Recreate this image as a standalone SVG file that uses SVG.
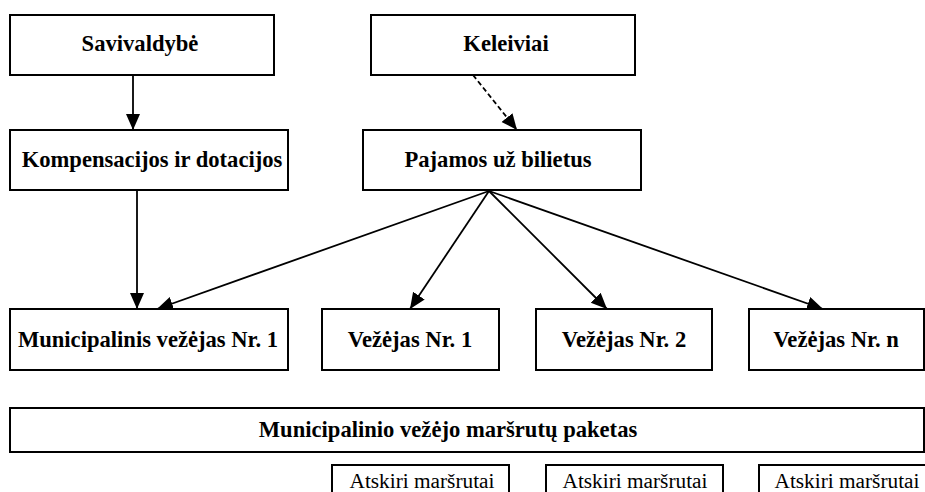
<svg xmlns="http://www.w3.org/2000/svg" width="925" height="492" viewBox="0 0 925 492">
<style>
.box{fill:#fff;stroke:#000;stroke-width:2}
.b{font-family:"Liberation Serif","Times New Roman",serif;font-weight:bold;font-size:22.6px;text-anchor:middle;fill:#000}
.n{font-family:"Liberation Serif","Times New Roman",serif;font-size:21.3px;text-anchor:middle;fill:#000}
.c{stroke:#000;stroke-width:1.8;fill:none}
.d{stroke-dasharray:5,3}
</style>
<defs>
<marker id="ah" markerUnits="userSpaceOnUse" markerWidth="18" markerHeight="15" refX="16" refY="7" orient="auto">
<path d="M0,0 L16,7 L0,14 Z" fill="#000"/>
</marker>
</defs>
<rect width="925" height="492" fill="#fff"/>
<g id="connectors">
<line class="c" x1="133" y1="75" x2="133" y2="130" marker-end="url(#ah)"/>
<line class="c d" x1="473" y1="75" x2="517" y2="130" marker-end="url(#ah)"/>
<line class="c" x1="137" y1="190" x2="137" y2="309" marker-end="url(#ah)"/>
<line class="c" x1="489" y1="191" x2="157" y2="309" marker-end="url(#ah)"/>
<line class="c" x1="489" y1="191" x2="410" y2="309" marker-end="url(#ah)"/>
<line class="c" x1="489" y1="191" x2="607" y2="309" marker-end="url(#ah)"/>
<line class="c" x1="489" y1="191" x2="823" y2="309" marker-end="url(#ah)"/>
</g>
<g id="savivaldybe">
<rect class="box" x="10" y="15" width="264" height="60"/>
<text class="b" x="140" y="51">Savivaldybė</text>
</g>
<g id="keleiviai">
<rect class="box" x="371" y="15" width="264" height="60"/>
<text class="b" x="506" y="51">Keleiviai</text>
</g>
<g id="kompensacijos">
<rect class="box" x="10" y="130" width="278" height="60"/>
<text class="b" x="152" y="167">Kompensacijos ir dotacijos</text>
</g>
<g id="pajamos">
<rect class="box" x="363" y="130" width="278" height="60"/>
<text class="b" x="498" y="167">Pajamos už bilietus</text>
</g>
<g id="municipalinis">
<rect class="box" x="10" y="309" width="278" height="61"/>
<text class="b" x="148" y="347">Municipalinis vežėjas Nr. 1</text>
</g>
<g id="vezejas1">
<rect class="box" x="322" y="309" width="177" height="61"/>
<text class="b" x="410" y="347">Vežėjas Nr. 1</text>
</g>
<g id="vezejas2">
<rect class="box" x="536" y="309" width="176" height="61"/>
<text class="b" x="624" y="347">Vežėjas Nr. 2</text>
</g>
<g id="vezejasn">
<rect class="box" x="749" y="309" width="175" height="61"/>
<text class="b" x="836" y="347">Vežėjas Nr. n</text>
</g>
<g id="paketas">
<rect class="box" x="10" y="408" width="914" height="44"/>
<text class="b" x="448" y="437">Municipalinio vežėjo maršrutų paketas</text>
</g>
<g id="atskiri1">
<rect class="box" x="332" y="465" width="177" height="40"/>
<text class="n" x="422" y="488">Atskiri maršrutai</text>
</g>
<g id="atskiri2">
<rect class="box" x="546" y="465" width="177" height="40"/>
<text class="n" x="635" y="488">Atskiri maršrutai</text>
</g>
<g id="atskiri3">
<rect class="box" x="759" y="465" width="177" height="40"/>
<text class="n" x="847" y="488">Atskiri maršrutai</text>
</g>
</svg>
